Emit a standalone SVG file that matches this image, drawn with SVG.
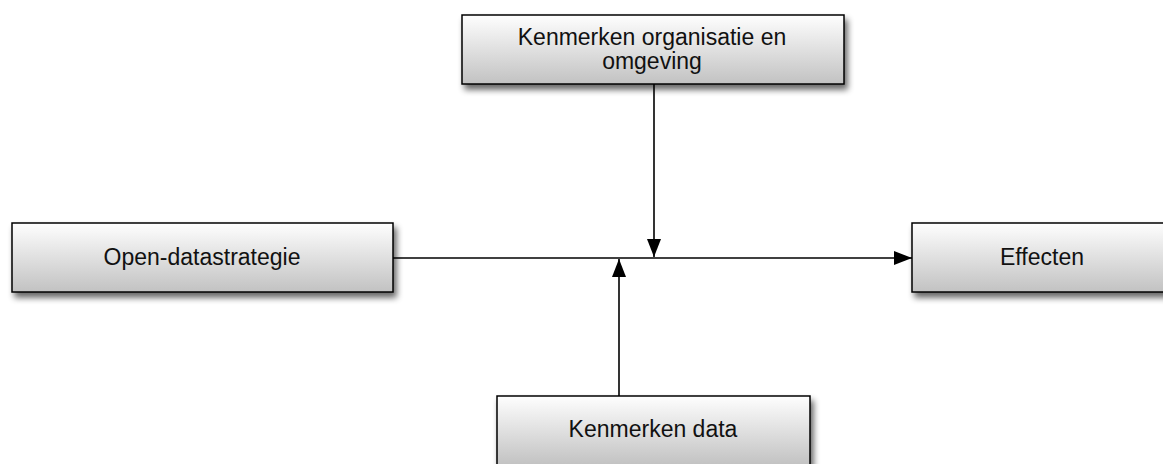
<svg xmlns="http://www.w3.org/2000/svg" width="1163" height="464" viewBox="0 0 1163 464">
<style>
.box{fill:url(#g);stroke:#000;stroke-width:1.5;filter:url(#sh)}
.lbl{font-family:"Liberation Sans",Arial,sans-serif;font-size:23px;fill:#111;text-anchor:middle}
.con{stroke:#000;stroke-width:1.6;fill:none;marker-end:url(#ah)}
</style>
<defs>
<linearGradient id="g" x1="0" y1="0" x2="0" y2="1">
<stop offset="0" stop-color="#fefefe"/>
<stop offset="1" stop-color="#c2c2c2"/>
</linearGradient>
<filter id="sh" x="-10%" y="-20%" width="125%" height="160%">
<feGaussianBlur in="SourceAlpha" stdDeviation="3"/>
<feOffset dx="3" dy="5" result="b"/>
<feComponentTransfer><feFuncA type="linear" slope="0.6"/></feComponentTransfer>
<feMerge><feMergeNode/><feMergeNode in="SourceGraphic"/></feMerge>
</filter>
<marker id="ah" markerUnits="userSpaceOnUse" markerWidth="20" markerHeight="14" refX="18" refY="7" orient="auto">
<path d="M0,0 L18,7 L0,14 Z" fill="#000"/>
</marker>
</defs>
<g id="connectors">
<path class="con" d="M393,258 H912"/>
<path class="con" d="M654,84 V257"/>
<path class="con" d="M619,396 V259"/>
</g>
<g id="node-top">
<rect class="box" x="462" y="15" width="382" height="69"/>
<text class="lbl" x="652" y="45">Kenmerken organisatie en</text>
<text class="lbl" x="652" y="69">omgeving</text>
</g>
<g id="node-left">
<rect class="box" x="12" y="223" width="381" height="69"/>
<text class="lbl" x="202" y="265">Open-datastrategie</text>
</g>
<g id="node-right">
<rect class="box" x="912" y="223" width="260" height="69"/>
<text class="lbl" x="1042" y="265">Effecten</text>
</g>
<g id="node-bottom">
<rect class="box" x="497" y="396" width="313" height="69"/>
<text class="lbl" x="653" y="437">Kenmerken data</text>
</g>
</svg>
